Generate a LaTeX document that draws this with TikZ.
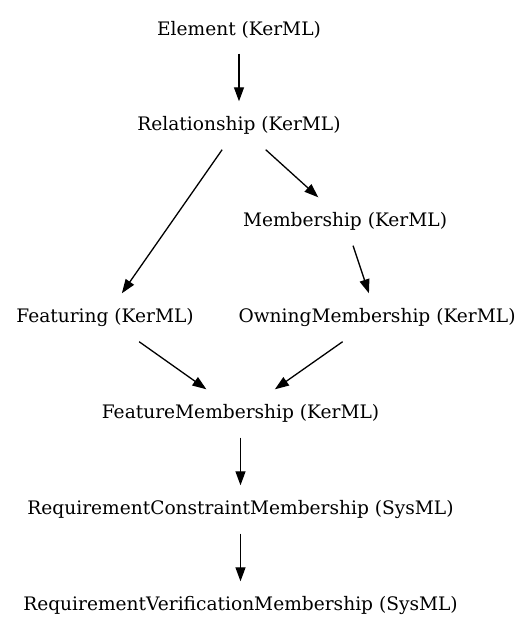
\documentclass[tikz,border=0pt]{standalone}
\usepackage{fontspec}
\setmainfont{DejaVu Serif}
\usetikzlibrary{arrows.meta}

\begin{document}
\begin{tikzpicture}[x = 1pt, y = 1pt, node distance = 96pt,
	cls/.style = {rectangle, minimum height = 48pt, inner xsep = 4pt, font = \fontsize{18.6pt}{22pt}\selectfont},
	>= {Triangle[length = 14pt, width = 10pt]},
	every edge/.style = {draw, ->, line width = 1.3pt}]
	\useasboundingbox (0,0) rectangle (531,-635);
	\node[cls] (elem) at (239,-29.5) {Element (KerML)};
	\node[cls] (rel) [below of = elem] {Relationship (KerML)};
	\node[cls] (mem) [below of = rel, xshift = 106pt] {Membership (KerML)};
	\node[cls] (feat) [below of = mem, xshift = -240pt] {Featuring (KerML)};
	\node[cls] (own) [below of = mem, xshift = 32pt] {OwningMembership (KerML)};
	\node[cls] (fm) [below of = own, xshift = -136.5pt] {FeatureMembership (KerML)};
	\node[cls] (rcm) [below of = fm] {RequirementConstraintMembership (SysML)};
	\node[cls] (rvm) [below of = rcm] {RequirementVerificationMembership (SysML)};
	\path (elem) edge (rel);
	\path (rel) edge (mem);
	\path (rel) edge (feat);
	\path (mem) edge (own);
	\path (feat) edge (fm);
	\path (own) edge (fm);
	\path (fm) edge (rcm);
	\path (rcm) edge (rvm);
\end{tikzpicture}
\end{document}
